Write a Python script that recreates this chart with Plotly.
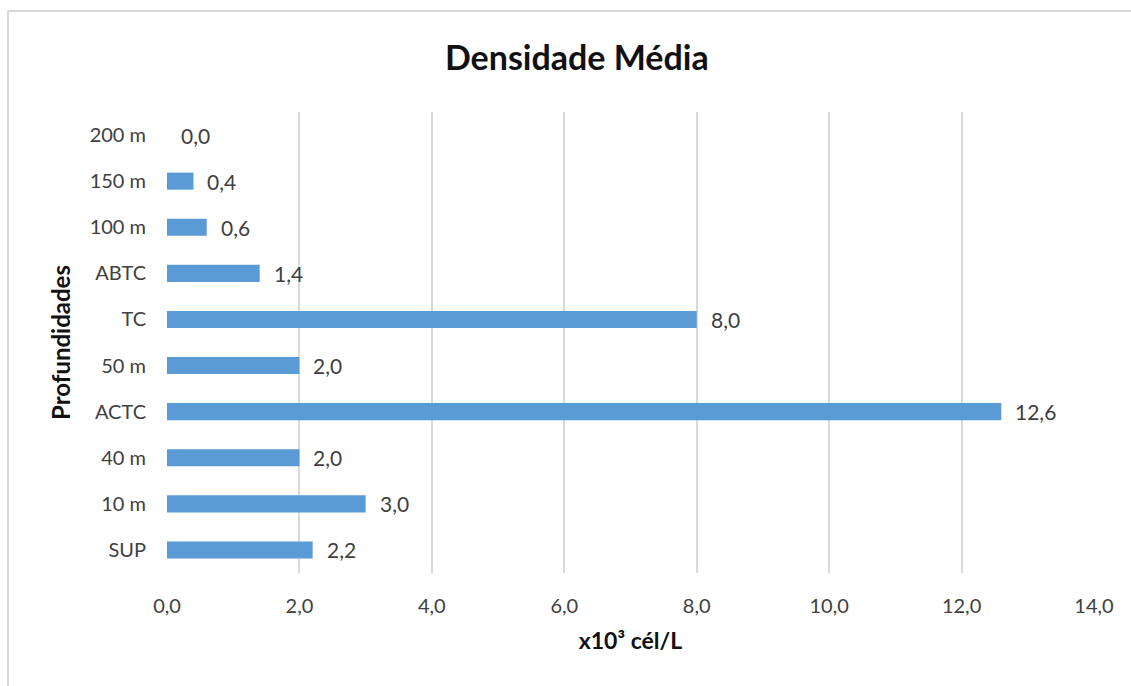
import plotly.graph_objects as go

categories = ["SUP", "10 m", "40 m", "ACTC", "50 m", "TC", "ABTC", "100 m", "150 m", "200 m"]
values = [2.2, 3.0, 2.0, 12.6, 2.0, 8.0, 1.4, 0.6, 0.4, 0.0]
x_ticks = [0, 2, 4, 6, 8, 10, 12, 14]

FONT = "Lato, 'Open Sans', sans-serif"
TXT = "#404040"

fig = go.Figure()
fig.add_trace(go.Bar(
    x=values, y=categories, orientation="h",
    marker=dict(color="#5B9BD5", line=dict(width=0)),
    width=0.37, showlegend=False, hoverinfo="x+y",
))

for c, v in zip(categories, values):
    fig.add_annotation(
        x=v, y=c, xref="x", yref="y",
        text=f"{v:.1f}".replace(".", ","),
        showarrow=False, xanchor="left", xshift=12,
        font=dict(family=FONT, size=21, color=TXT),
    )

# chart border (top and left)
fig.add_shape(type="line", xref="paper", yref="paper",
              x0=-0.1715, x1=1.05, y0=1.219, y1=1.219,
              line=dict(color="#D9D9D9", width=2))
fig.add_shape(type="line", xref="paper", yref="paper",
              x0=-0.1715, x1=-0.1715, y0=1.219, y1=-0.26,
              line=dict(color="#D9D9D9", width=2))

fig.update_layout(
    width=1131, height=686,
    margin=dict(l=167, r=37, t=112, b=113),
    paper_bgcolor="white", plot_bgcolor="white",
    separators=",.",
    title=dict(text="<b>Densidade Média</b>", x=0.51, xanchor="center",
               y=0.915, yanchor="middle",
               font=dict(family=FONT, size=34, color="#111111")),
    xaxis=dict(range=[0, 14], tickvals=x_ticks, tickformat=".1f",
               showgrid=True, gridcolor="#D9D9D9", gridwidth=2,
               zeroline=False, showline=False, ticks="",
               ticklabelstandoff=19,
               tickfont=dict(family=FONT, size=20, color=TXT),
               title=dict(text="<b>x10³ cél/L</b>", standoff=16,
                          font=dict(family=FONT, size=23, color="#111111"))),
    yaxis=dict(categoryorder="array", categoryarray=categories,
               showgrid=False, zeroline=False, showline=False, ticks="",
               ticklabelstandoff=20,
               tickfont=dict(family=FONT, size=20, color=TXT),
               title=dict(text="<b>Profundidades</b>", standoff=12,
                          font=dict(family=FONT, size=24, color="#111111"))),
    bargap=0.63,
)

fig.write_html("out.html")
